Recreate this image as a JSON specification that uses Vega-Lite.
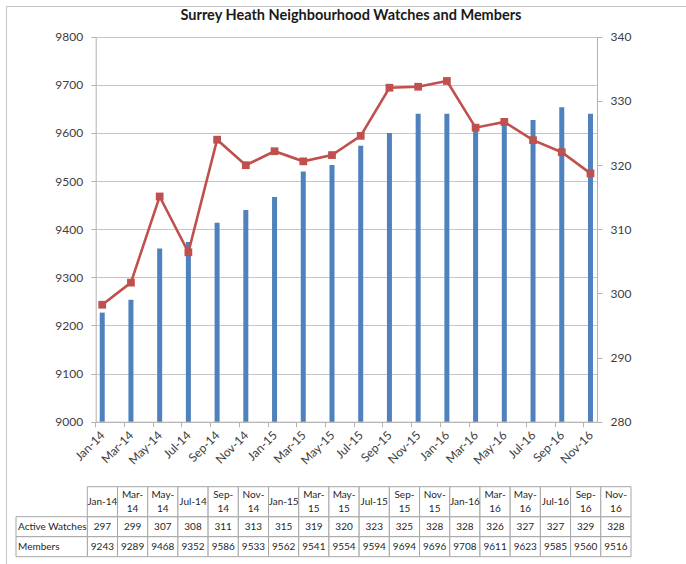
{
  "$schema": "https://vega.github.io/schema/vega-lite/v6.json",
  "width": 680,
  "height": 558,
  "autosize": {"type": "none"},
  "padding": {"left": 6, "top": 6, "right": 0, "bottom": 0},
  "background": "white",
  "config": {
    "view": {"stroke": "#c4c4c4", "strokeWidth": 1},
    "font": "Lato",
    "axis": {"labelFont": "Lato", "labelColor": "#404040", "domainColor": "#b3b3b3", "tickColor": "#b3b3b3", "gridColor": "#c6c6c6", "title": null}
  },
  "title": {
    "text": "Surrey Heath Neighbourhood Watches and Members",
    "frame": "group",
    "anchor": "middle",
    "offset": -28,
    "baseline": "alphabetic",
    "dx": 5,
    "fontSize": 14.5,
    "font": "Lato",
    "fontWeight": "bold",
    "color": "#1a1a1a"
  },
  "datasets": {
    "main": [
      {"month": "Jan-14", "Active Watches": 297, "Members": 9243},
      {"month": "Mar-14", "Active Watches": 299, "Members": 9289},
      {"month": "May-14", "Active Watches": 307, "Members": 9468},
      {"month": "Jul-14", "Active Watches": 308, "Members": 9352},
      {"month": "Sep-14", "Active Watches": 311, "Members": 9586},
      {"month": "Nov-14", "Active Watches": 313, "Members": 9533},
      {"month": "Jan-15", "Active Watches": 315, "Members": 9562},
      {"month": "Mar-15", "Active Watches": 319, "Members": 9541},
      {"month": "May-15", "Active Watches": 320, "Members": 9554},
      {"month": "Jul-15", "Active Watches": 323, "Members": 9594},
      {"month": "Sep-15", "Active Watches": 325, "Members": 9694},
      {"month": "Nov-15", "Active Watches": 328, "Members": 9696},
      {"month": "Jan-16", "Active Watches": 328, "Members": 9708},
      {"month": "Mar-16", "Active Watches": 326, "Members": 9611},
      {"month": "May-16", "Active Watches": 327, "Members": 9623},
      {"month": "Jul-16", "Active Watches": 327, "Members": 9585},
      {"month": "Sep-16", "Active Watches": 329, "Members": 9560},
      {"month": "Nov-16", "Active Watches": 328, "Members": 9516}
    ],
    "header": [
      {"month": "Jan-14", "line": "single", "label": "Jan-14"},
      {"month": "Mar-14", "line": "top", "label": "Mar-"},
      {"month": "Mar-14", "line": "bottom", "label": "14"},
      {"month": "May-14", "line": "top", "label": "May-"},
      {"month": "May-14", "line": "bottom", "label": "14"},
      {"month": "Jul-14", "line": "single", "label": "Jul-14"},
      {"month": "Sep-14", "line": "top", "label": "Sep-"},
      {"month": "Sep-14", "line": "bottom", "label": "14"},
      {"month": "Nov-14", "line": "top", "label": "Nov-"},
      {"month": "Nov-14", "line": "bottom", "label": "14"},
      {"month": "Jan-15", "line": "single", "label": "Jan-15"},
      {"month": "Mar-15", "line": "top", "label": "Mar-"},
      {"month": "Mar-15", "line": "bottom", "label": "15"},
      {"month": "May-15", "line": "top", "label": "May-"},
      {"month": "May-15", "line": "bottom", "label": "15"},
      {"month": "Jul-15", "line": "single", "label": "Jul-15"},
      {"month": "Sep-15", "line": "top", "label": "Sep-"},
      {"month": "Sep-15", "line": "bottom", "label": "15"},
      {"month": "Nov-15", "line": "top", "label": "Nov-"},
      {"month": "Nov-15", "line": "bottom", "label": "15"},
      {"month": "Jan-16", "line": "single", "label": "Jan-16"},
      {"month": "Mar-16", "line": "top", "label": "Mar-"},
      {"month": "Mar-16", "line": "bottom", "label": "16"},
      {"month": "May-16", "line": "top", "label": "May-"},
      {"month": "May-16", "line": "bottom", "label": "16"},
      {"month": "Jul-16", "line": "single", "label": "Jul-16"},
      {"month": "Sep-16", "line": "top", "label": "Sep-"},
      {"month": "Sep-16", "line": "bottom", "label": "16"},
      {"month": "Nov-16", "line": "top", "label": "Nov-"},
      {"month": "Nov-16", "line": "bottom", "label": "16"}
    ],
    "rowlabels": [
      {"row": "Active Watches"},
      {"row": "Members"}
    ]
  },
  "layer": [
    {
      "data": {"name": "main"},
      "layer": [
        {
          "mark": {"type": "bar", "size": 5, "color": "#4f81bd"},
          "encoding": {
            "x": {
              "field": "month", "type": "ordinal", "sort": null,
              "scale": {"type": "point", "range": [89.7, 591], "padding": 0.227},
              "axis": {"orient": "bottom", "offset": -142.3, "labelAngle": -45, "labelAlign": "right", "labelBaseline": "middle", "labelPadding": 6, "tickSize": 5, "tickOffset": -7, "labelOffset": 7, "labelFontSize": 12, "labelOverlap": false, "grid": false, "title": null}
            },
            "y": {
              "field": "Active Watches", "type": "quantitative",
              "scale": {"domain": [280, 340], "range": [415.7, 30.7], "zero": false, "nice": false},
              "axis": {"orient": "right", "offset": -89, "values": [280, 290, 300, 310, 320, 330, 340], "format": "d", "grid": false, "tickSize": 5, "labelPadding": 8, "labelFontSize": 12, "title": null}
            },
            "y2": {"datum": 280}
          }
        },
        {
          "mark": {"type": "line", "color": "#c0504d", "strokeWidth": 2.6, "point": {"shape": "square", "size": 60, "filled": true, "color": "#c0504d"}},
          "encoding": {
            "x": {
              "field": "month", "type": "ordinal", "sort": null,
              "scale": {"type": "point", "range": [89.7, 591], "padding": 0.227},
              "axis": {"orient": "bottom", "offset": -142.3, "labelAngle": -45, "labelAlign": "right", "labelBaseline": "middle", "labelPadding": 6, "tickSize": 5, "tickOffset": -7, "labelOffset": 7, "labelFontSize": 12, "labelOverlap": false, "grid": false, "title": null}
            },
            "y": {
              "field": "Members", "type": "quantitative",
              "scale": {"domain": [9000, 9800], "range": [415.7, 30.7], "zero": false, "nice": false},
              "axis": {"orient": "left", "offset": -89.7, "values": [9000, 9100, 9200, 9300, 9400, 9500, 9600, 9700, 9800], "format": "d", "grid": true, "tickSize": 5, "labelPadding": 8, "labelFontSize": 12, "title": null}
            }
          }
        }
      ],
      "resolve": {"scale": {"y": "independent"}}
    },
    {
      "data": {"name": "main"},
      "transform": [{"fold": ["Active Watches", "Members"], "as": ["row", "val"]}],
      "layer": [
        {
          "mark": {"type": "rect", "fill": "white", "stroke": "#a6a6a6", "strokeWidth": 1},
          "encoding": {
            "x": {"field": "month", "type": "ordinal", "sort": null, "scale": {"type": "band", "range": [81.3, 625], "paddingInner": 0, "paddingOuter": 0}, "axis": null},
            "y": {"field": "row", "type": "nominal", "sort": ["Active Watches", "Members"], "scale": {"type": "band", "range": [510.7, 550.7], "paddingInner": 0, "paddingOuter": 0}, "axis": null}
          }
        },
        {
          "mark": {"type": "text", "fontSize": 10, "color": "#262626", "font": "Lato"},
          "encoding": {
            "x": {"field": "month", "type": "ordinal", "sort": null, "scale": {"type": "band", "range": [81.3, 625], "paddingInner": 0, "paddingOuter": 0}, "axis": null},
            "y": {"field": "row", "type": "nominal", "sort": ["Active Watches", "Members"], "scale": {"type": "band", "range": [510.7, 550.7], "paddingInner": 0, "paddingOuter": 0}, "axis": null},
            "text": {"field": "val", "type": "quantitative", "format": "d"}
          }
        }
      ]
    },
    {
      "data": {"name": "main"},
      "mark": {"type": "rect", "fill": "white", "stroke": "#a6a6a6", "strokeWidth": 1},
      "encoding": {
        "x": {"field": "month", "type": "ordinal", "sort": null, "scale": {"type": "band", "range": [81.3, 625], "paddingInner": 0, "paddingOuter": 0}, "axis": null},
        "y": {"datum": "header", "type": "nominal", "scale": {"type": "band", "range": [480.7, 510.7], "paddingInner": 0, "paddingOuter": 0}, "axis": null}
      }
    },
    {
      "data": {"name": "header"},
      "mark": {"type": "text", "fontSize": 10, "color": "#262626", "font": "Lato", "baseline": "middle"},
      "encoding": {
        "x": {"field": "month", "type": "ordinal", "sort": null, "scale": {"type": "band", "range": [81.3, 625], "paddingInner": 0, "paddingOuter": 0}, "axis": null},
        "y": {"field": "line", "type": "ordinal", "sort": ["top", "single", "bottom"], "scale": {"type": "point", "range": [489, 503.3], "padding": 0}, "axis": null},
        "text": {"field": "label", "type": "nominal"}
      }
    },
    {
      "data": {"name": "rowlabels"},
      "layer": [
        {
          "mark": {"type": "rect", "fill": "white", "stroke": "#a6a6a6", "strokeWidth": 1},
          "encoding": {
            "x": {"datum": "label", "type": "nominal", "scale": {"type": "band", "range": [10, 81.3], "paddingInner": 0, "paddingOuter": 0}, "axis": null},
            "y": {"field": "row", "type": "nominal", "sort": ["Active Watches", "Members"], "scale": {"type": "band", "range": [510.7, 550.7], "paddingInner": 0, "paddingOuter": 0}, "axis": null}
          }
        },
        {
          "mark": {"type": "text", "fontSize": 10, "color": "#262626", "font": "Lato", "align": "left", "dx": 2},
          "encoding": {
            "x": {"datum": "label", "type": "nominal", "bandPosition": 0, "scale": {"type": "band", "range": [10, 81.3], "paddingInner": 0, "paddingOuter": 0}, "axis": null},
            "y": {"field": "row", "type": "nominal", "sort": ["Active Watches", "Members"], "scale": {"type": "band", "range": [510.7, 550.7], "paddingInner": 0, "paddingOuter": 0}, "axis": null},
            "text": {"field": "row", "type": "nominal"}
          }
        }
      ]
    }
  ],
  "resolve": {"scale": {"x": "independent", "y": "independent"}}
}
